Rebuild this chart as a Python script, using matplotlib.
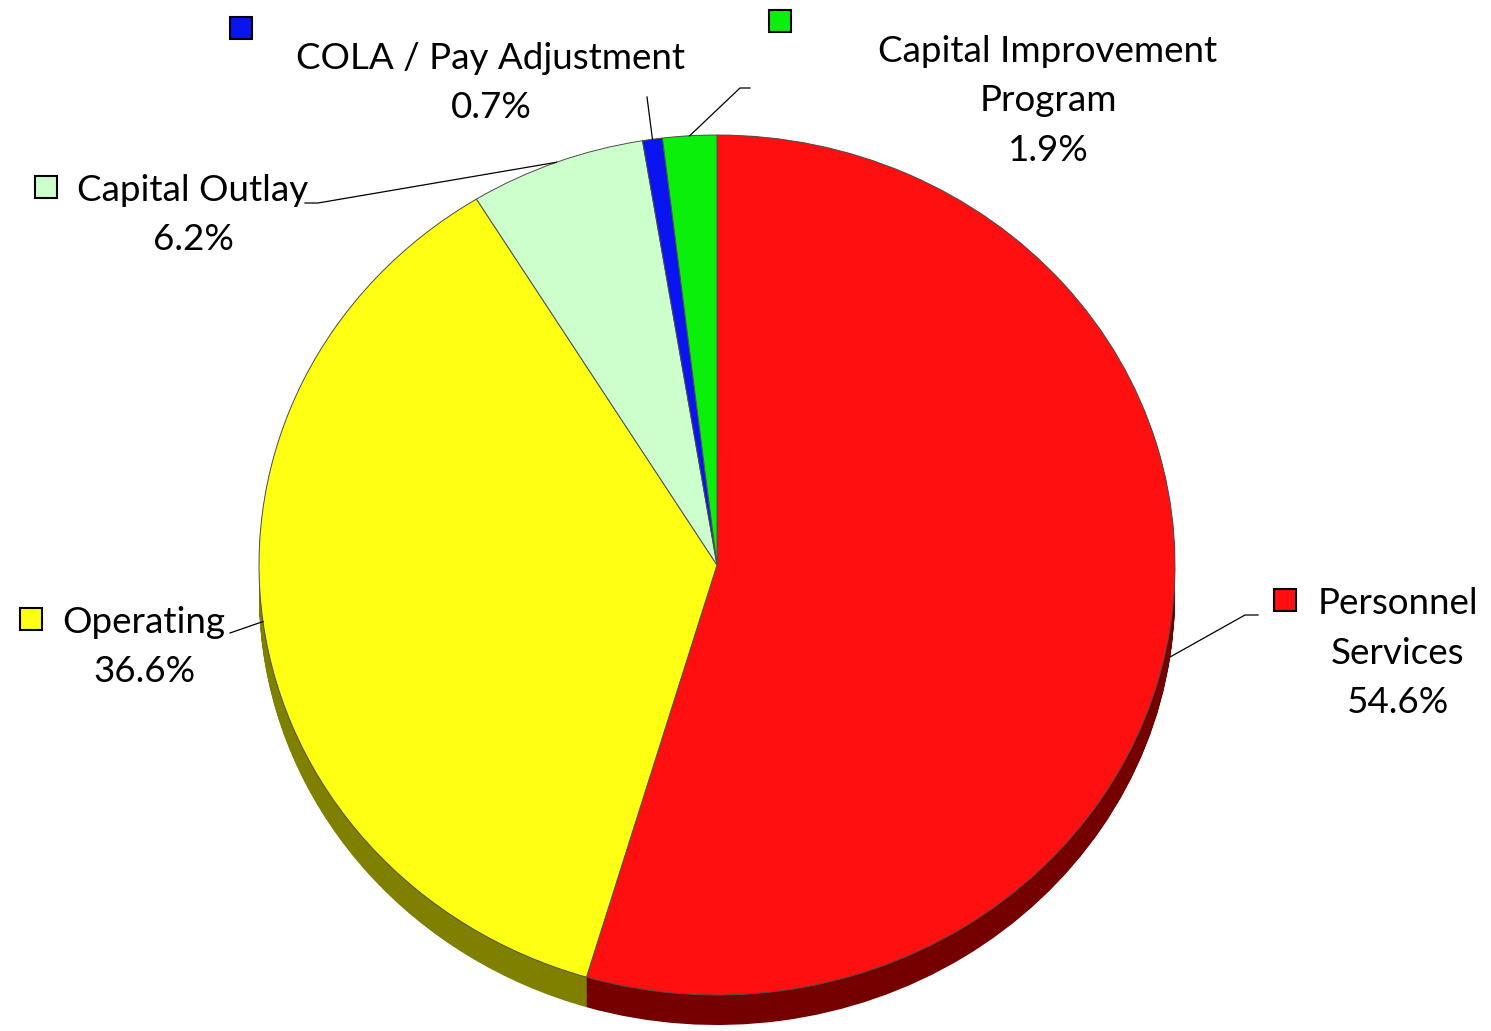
import numpy as np
import matplotlib.pyplot as plt

plt.rcParams["font.family"] = ["Lato", "DejaVu Sans"]
plt.rcParams["font.size"] = 26.5

# data
labels = ["Personnel\nServices", "Operating", "Capital Outlay",
          "COLA / Pay Adjustment", "Capital Improvement\nProgram"]
shares = [54.6, 36.6, 6.2, 0.7, 1.9]
colors = ["#FF0F0F", "#FFFF14", "#CCFFCC", "#0A14F0", "#0AF00A"]
side_colors = ["#740000", "#7F7F00", "#6A806A", "#00007F", "#007800"]

# layout in picture pixels
W, H = 1491, 1031
cx, cy, rx, ry = 717, 565, 458, 430
depth = 30
text_pos = [(1398, 653), (144, 647), (193, 215), (491, 83), (1048, 101)]
key_pos = [(1285, 600), (31, 619), (46, 187), (241, 28), (780, 21)]
leader_pts = [[(1245, 615), (1258, 615)],
              [(230, 633)],
              [(318, 203), (305, 203)],
              [(647, 97)],
              [(740, 88), (750, 88)]]
anchor_dy = [30, 0, 0, 0, 0]


def px(x, y):
    return (x - cx) / rx, (cy - y) / ry


fig = plt.figure(figsize=(W / 100, H / 100), dpi=100)
ax = fig.add_axes([0, 0, 1, 1])

# side of the 3D pie
for d in np.linspace(depth / ry, 0, 40):
    ax.pie(shares, colors=side_colors, startangle=90, counterclock=False,
           center=(0, -d), wedgeprops=dict(linewidth=0))

# top face
ax.pie(shares, colors=colors, startangle=90, counterclock=False,
       wedgeprops=dict(edgecolor="#505050", linewidth=0.7))

ax.set_aspect("auto")
ax.set_xlim(px(0, 0)[0], px(W, 0)[0])
ax.set_ylim(px(0, H)[1], px(0, 0)[1])
ax.axis("off")

# labels with leader lines
cum = np.cumsum(shares) - np.array(shares) / 2
for i, lab in enumerate(labels):
    theta = np.deg2rad(cum[i] / sum(shares) * 360)
    ax_x, ax_y = np.sin(theta), np.cos(theta) - anchor_dy[i] / ry
    pts = [px(*p) for p in leader_pts[i]]
    xs = [ax_x] + [p[0] for p in pts]
    ys = [ax_y] + [p[1] for p in pts]
    ax.plot(xs, ys, color="black", lw=0.9)

    tx, ty = px(*text_pos[i])
    ax.text(tx, ty, lab + "\n%.1f%%" % shares[i], ha="center", va="center",
            multialignment="center", linespacing=1.62)
    kx, ky = px(*key_pos[i])
    ax.plot(kx, ky, marker="s", ms=16, mfc=colors[i], mec="black", mew=1.5)

fig.savefig("out.png", dpi=100)
